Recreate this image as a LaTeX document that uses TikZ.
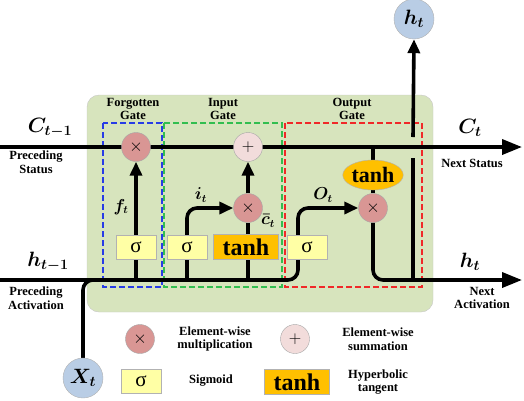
\documentclass[tikz,border=0pt]{standalone}
\usepackage{amsmath}
\usepackage{fontspec}
\setmainfont{Liberation Serif}
\usepackage{tikz}
\usetikzlibrary{arrows.meta}
\usetikzlibrary{backgrounds}
\usetikzlibrary{calc}
\usetikzlibrary{shapes.geometric}

\pgfdeclarelayer{wires}
\pgfsetlayers{background,wires,main}

\definecolor{cellgreen}{RGB}{215,228,189}
\definecolor{mulred}{RGB}{217,150,148}
\definecolor{addpink}{RGB}{242,220,219}
\definecolor{sigyellow}{RGB}{255,255,165}
\definecolor{tanhorange}{RGB}{255,192,0}
\definecolor{statblue}{RGB}{185,205,229}
\definecolor{gateblue}{RGB}{40,60,230}
\definecolor{gategreen}{RGB}{50,190,80}
\definecolor{gatered}{RGB}{240,40,40}

\begin{document}
\begin{tikzpicture}[x=1pt, y=-1pt,
    wire/.style={line width=3.6pt},
    flow/.style={wire, -{Triangle[length=14pt,width=12pt]}},
    bigflow/.style={wire, -{Triangle[length=20pt,width=15pt]}},
    mulop/.style={circle, draw=gray!70, fill=mulred, minimum size=29pt, inner sep=0pt, font=\fontsize{18}{18}\selectfont},
    addop/.style={mulop, fill=addpink},
    sigbox/.style={draw=gray!60, fill=sigyellow, minimum width=40pt, minimum height=24pt, inner sep=0pt, font=\fontsize{21}{21}\selectfont},
    tanhbox/.style={draw=gray!60, fill=tanhorange, minimum width=65pt, minimum height=25pt, inner sep=0pt, font=\bfseries\fontsize{24}{24}\selectfont},
    tanhell/.style={ellipse, draw=gray!60, fill=tanhorange, minimum width=58pt, minimum height=30pt, inner sep=0pt, font=\bfseries\fontsize{22}{22}\selectfont},
    state/.style={circle, draw=gray!60, fill=statblue, minimum size=40pt, inner sep=0pt, font=\boldmath\fontsize{21}{21}\selectfont},
    varlab/.style={font=\boldmath\fontsize{21}{23}\selectfont},
    sublab/.style={font=\boldmath\fontsize{16}{18}\selectfont},
    note/.style={align=center, font=\bfseries\fontsize{12.5}{13.5}\selectfont},
    gate/.style={dash pattern=on 6pt off 3pt, line width=1.3pt}]

  \useasboundingbox (0,0) rectangle (524,400);

  % Notable points
  \coordinate (cin) at (0,147);
  \coordinate (cout) at (522,147);
  \coordinate (hin) at (0,280);
  \coordinate (hnext) at (522,280);
  \coordinate (obend) at (298,280);
  \coordinate (tap) at (413,280);

  % Cell body and the three gates
  \begin{scope}[on background layer]
    \draw[rounded corners=12pt, draw=gray!45, fill=cellgreen] (87,95) rectangle (433,312);
    \draw[gate, draw=gateblue] (103,123) rectangle (162,287);
    \draw[gate, draw=gategreen] (164,123) rectangle (282,287);
    \draw[gate, draw=gatered] (285,123) rectangle (422,287);
  \end{scope}

  \node[note] (fgate) at (133,109) {Forgotten\\Gate};
  \node[note] (igate) at (223,109) {Input\\Gate};
  \node[note] (ogate) at (352,109) {Output\\Gate};

  % Operations
  \node[mulop] (fmul) at (136,147) {$\times$};
  \node[addop] (cadd) at (248,147) {$+$};
  \node[mulop] (imul) at (248,208) {$\times$};
  \node[mulop] (omul) at (373,208) {$\times$};

  \node[sigbox] (fsig) at (136,247) {σ};
  \node[sigbox] (isig) at (187,247) {σ};
  \node[tanhbox] (itanh) at (246,247) {tanh};
  \node[sigbox] (osig) at (307,247) {σ};
  \node[tanhell] (otanh) at (373,175) {tanh};

  \node[state] (hout) at (414,19) {$h_t$};
  \node[state] (xin) at (83,378) {$X_t$};

  % Wires
  \begin{pgfonlayer}{wires}
    \draw[bigflow] (cin) -- (cout);
    \draw[flow, rounded corners=10pt] (hin) -- (obend) -- (obend |- omul) -- (omul.west);
    \draw[wire, rounded corners=10pt] (xin.north) -- (xin |- hin) -- ++(20,0);
    \draw[flow] (fmul |- hin) -- (fmul.south);
    \draw[flow, rounded corners=10pt] (isig |- hin) -- (isig |- imul) -- (imul.west);
    \draw[wire] (imul |- hin) -- (imul.south);
    \draw[flow] (imul.north) -- (cadd.south);
    \draw[wire] (otanh |- cin) -- (otanh.north);
    \draw[wire] (otanh.south) -- (omul.north);
    \draw[bigflow, rounded corners=10pt] (omul.south) -- (omul |- hnext) -- (hnext);
    \draw[wire] (tap) -- ++(0,-122);
    \draw[flow] ($(tap |- cin)+(0,-10)$) -- (hout.south);
  \end{pgfonlayer}

  % Signal labels
  \node[sublab] (flab) at (121,207) {$f_t$};
  \node[sublab] (ilab) at (201,195) {$i_t$};
  \node[sublab] (cbarlab) at (268,221) {$\bar{c}_t$};
  \node[sublab] (olab) at (323,195) {$O_t$};

  \node[varlab] (cprev) at (50,128) {$C_{t-1}$};
  \node[note] (cprevnote) at (36,162) {Preceding\\Status};
  \node[varlab] (hprev) at (48,262) {$h_{t-1}$};
  \node[note] (hprevnote) at (36,298) {Preceding\\Activation};
  \node[varlab] (cnext) at (470,128) {$C_t$};
  \node[note] (cnextnote) at (472,163) {Next Status};
  \node[varlab] (hnextlab) at (470,262) {$h_t$};
  \node[note] (hnextnote) at (482,298) {Next\\Activation};

  % Legend
  \node[mulop] (lgmul) at (140,339) {$\times$};
  \node[note] (lgmultext) at (215,339) {Element-wise\\multiplication};
  \node[addop] (lgadd) at (295,339) {$+$};
  \node[note] (lgaddtext) at (378,339) {Element-wise\\summation};
  \node[sigbox] (lgsig) at (141,381) {σ};
  \node[note] (lgsigtext) at (211,381) {Sigmoid};
  \node[tanhbox] (lgtanh) at (297,382) {tanh};
  \node[note] (lgtanhtext) at (378,382) {Hyperbolic\\tangent};

\end{tikzpicture}
\end{document}
